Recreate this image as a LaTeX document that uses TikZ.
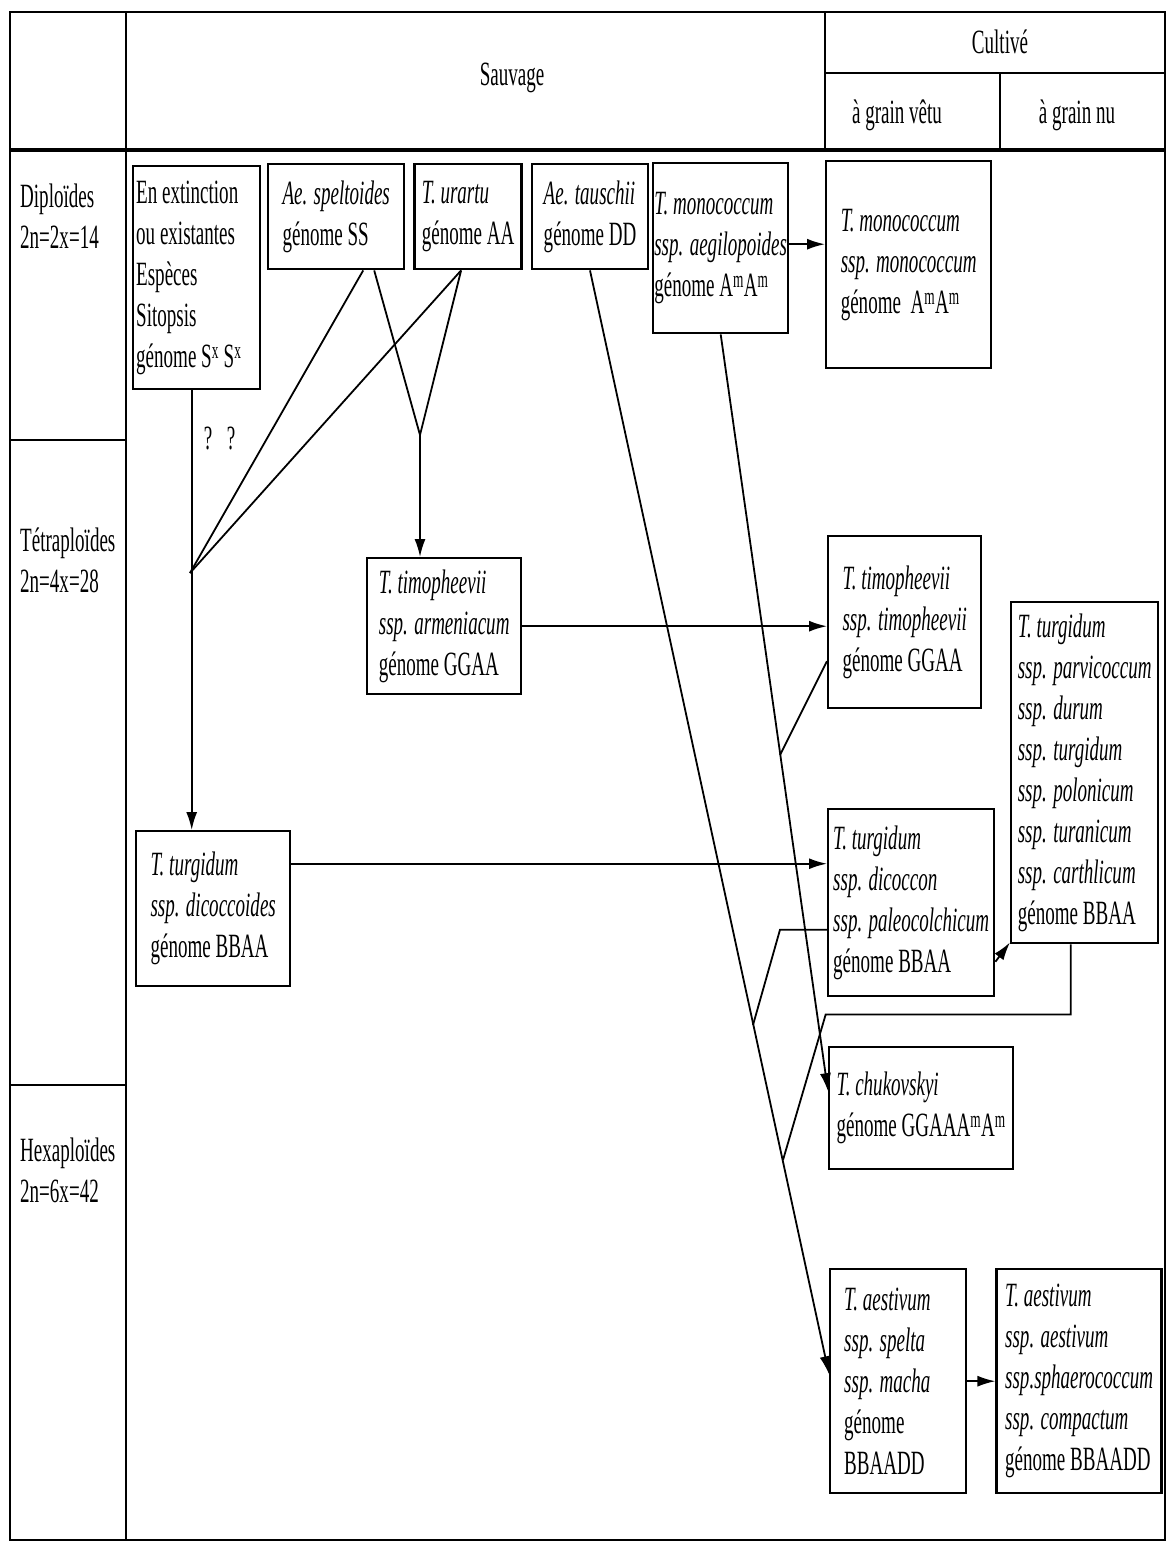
\documentclass[tikz,border=0pt]{standalone}
\usepackage{fontspec}
\setmainfont{Liberation Serif}[FakeStretch=0.56]
\usetikzlibrary{arrows.meta,positioning}

\begin{document}
\begin{tikzpicture}[x=1pt,y=-1pt,>={Latex[length=18pt,width=11pt]},
        font=\fontsize{34}{41}\selectfont,
        box/.style={draw,line width=2.4pt,anchor=north west,align=left,inner sep=0pt},
        rule/.style={line width=2.5pt},
        link/.style={line width=1.8pt}]

  \useasboundingbox (0,0) rectangle (1169,1544);

  \draw[rule] (10,12) rectangle (1165,1540);
  \draw[rule,line width=3.5pt] (10,150) -- (1165,150);
  \draw[rule] (126,12) -- (126,1540);
  \draw[rule] (825,12) -- (825,150);
  \draw[rule] (825,73) -- (1165,73);
  \draw[rule] (1000,73) -- (1000,150);
  \draw[rule] (10,440) -- (126,440);
  \draw[rule] (10,1085) -- (126,1085);

  \node (sauv) at (512,78) {Sauvage};
  \node (cult) at (1000,42) {Cultivé};
  \node (vetu) at (897,115) {à grain vêtu};
  \node (nu) at (1077,115) {à grain nu};

  \node[anchor=north west,align=left,inner sep=0pt] (dip) at (20,184) {Diploïdes\\2n=2x=14};
  \node[anchor=north west,align=left,inner sep=0pt] (tet) at (20,528) {Tétraploïdes\\2n=4x=28};
  \node[anchor=north west,align=left,inner sep=0pt] (hex) at (20,1138) {Hexaploïdes\\2n=6x=42};

  \node[box,minimum width=127pt,minimum height=223pt,text width=121pt,inner xsep=3pt,align=flush left] (sit) at (132,165)
    {En extinction\\ou existantes\\Espèces\\Sitopsis\\génome S\textsuperscript{x} S\textsuperscript{x}};
  \node[box,minimum width=136pt,minimum height=105pt] (spt) at (267,163) {\textit{Ae. speltoides}\\génome SS};
  \node[box,minimum width=107pt,minimum height=105pt,right=8pt of spt] (ura) {\textit{T. urartu}\\génome AA};
  \node[box,minimum width=116pt,minimum height=105pt,right=8pt of ura] (tau) {\textit{Ae. tauschii}\\génome DD};
  \node[box,minimum width=135pt,minimum height=170pt] (aeg) at (652,162)
    {\textit{T. monococcum}\\\textit{ssp. aegilopoides}\\génome A\textsuperscript{m}A\textsuperscript{m}};
  \node[box,minimum width=165pt,minimum height=207pt] (mono) at (825,160)
    {\textit{T. monococcum}\\\textit{ssp. monococcum}\\génome\ \ A\textsuperscript{m}A\textsuperscript{m}};

  \node[box,minimum width=154pt,minimum height=136pt] (arm) at (366,557)
    {\textit{T. timopheevii}\\\textit{ssp. armeniacum}\\génome GGAA};
  \node[box,minimum width=153pt,minimum height=172pt] (tim) at (827,535)
    {\textit{T. timopheevii}\\\textit{ssp. timopheevii}\\génome GGAA};
  \node[box,minimum width=147pt,minimum height=341pt] (parv) at (1010,601)
    {\textit{T. turgidum}\\\textit{ssp. parvicoccum}\\\textit{ssp. durum}\\\textit{ssp. turgidum}\\\textit{ssp. polonicum}\\\textit{ssp. turanicum}\\\textit{ssp. carthlicum}\\génome BBAA};
  \node[box,minimum width=154pt,minimum height=155pt] (dcd) at (135,830)
    {\textit{T. turgidum}\\\textit{ssp. dicoccoides}\\génome BBAA};
  \node[box,minimum width=166pt,minimum height=187pt] (dcn) at (827,808)
    {\textit{T. turgidum}\\\textit{ssp. dicoccon}\\\textit{ssp. paleocolchicum}\\génome BBAA};
  \node[box,minimum width=184pt,minimum height=122pt] (chu) at (828,1046)
    {\textit{T. chukovskyi}\\génome GGAAA\textsuperscript{m}A\textsuperscript{m}};
  \node[box,minimum width=136pt,minimum height=224pt,text width=108pt,inner xsep=14pt,align=flush left] (spel) at (829,1268)
    {\textit{T. aestivum}\\\textit{ssp. spelta}\\\textit{ssp. macha}\\génome\\BBAADD};
  \node[box,minimum width=165pt,minimum height=224pt,right=28pt of spel] (aest)
    {\textit{T. aestivum}\\\textit{ssp. aestivum}\\\textit{ssp.sphaerococcum}\\\textit{ssp. compactum}\\génome BBAADD};

  \coordinate (j1) at (190,573);
  \coordinate (v) at (420,435);
  \coordinate (j2) at (780,755);
  \coordinate (j3) at (753,1025);
  \coordinate (j4) at (783,1160);

  \node (q1) at (208,438) {?};
  \node (q2) at (231,438) {?};

  \draw[link,->] ([xshift=-5pt]sit.south) -- ([xshift=-5pt]sit.south |- dcd.north);
  \draw[link] ([xshift=27pt]spt.south) -- (j1);
  \draw[link] ([xshift=-7pt]ura.south) -- (j1);
  \draw[link] ([xshift=38pt]spt.south) -- (v);
  \draw[link] ([xshift=-7pt]ura.south) -- (v);
  \draw[link,->] (v) -- (v |- arm.north);

  \draw[link,->] ([yshift=4pt]aeg.east) -- ([yshift=4pt]aeg.east -| mono.west);
  \draw[link,->] (arm.east) -- (arm.east -| tim.west);
  \draw[link,->] ([yshift=45pt]dcd.east) -- ([yshift=45pt]dcd.east -| dcn.west);
  \draw[link,->] ([yshift=-59pt]dcn.east) -- ([yshift=2pt]parv.south west);
  \draw[link,->] (spel.east) -- (spel.east -| aest.west);

  \draw[link,->] (aeg.south) -- ([yshift=17pt]chu.west);
  \draw[link] ([yshift=-39pt]tim.west) -- (j2);
  \draw[link,->] (tau.south) -- ([yshift=7pt]spel.west);
  \draw[link] ([yshift=-27pt]dcn.west) -- ++(-47,0) -- (j3);
  \draw[link] ([xshift=-14pt]parv.south) -- ++(0,70) -- ++(-245,0) -- (j4);

\end{tikzpicture}
\end{document}
